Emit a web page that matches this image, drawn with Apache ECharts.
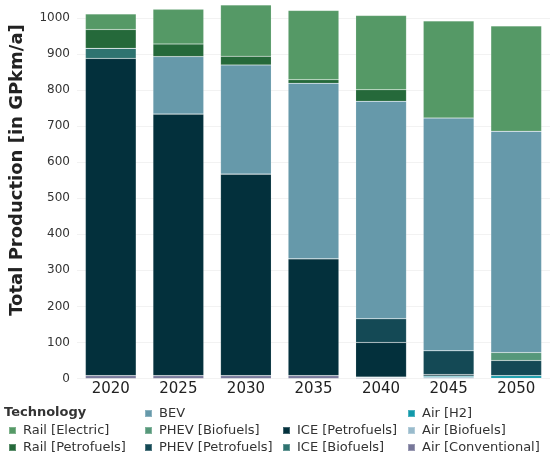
<!DOCTYPE html>
<html style="height: 100%">
<head>
	<meta charset="utf-8">
	<title>Total Production</title>
	<script src="https://cdn.jsdelivr.net/npm/echarts@6/dist/echarts.min.js"></script>
</head>
<body style="height: 100%; margin: 0; background: #fff">
	<div id="main" style="width: 550px; height: 458px"></div>
	<script type="text/javascript">

		// years on the x axis
		var years = ['2020', '2025', '2030', '2035', '2040', '2045', '2050'];
		var yTicks = [0, 100, 200, 300, 400, 500, 600, 700, 800, 900, 1000];

		// GPkm/a per technology, bottom of the stack first
		var airConventional = [8, 8, 8, 8, 2, 0, 0];
		var airBiofuels     = [0, 0, 0, 0, 2, 4, 1];
		var airH2           = [0, 0, 0, 0, 0, 3, 7];
		var icePetrofuels   = [880, 726, 559, 324, 96, 4, 0];
		var iceBiofuels     = [28, 0, 0, 0, 0, 0, 0];
		var phevPetrofuels  = [0, 0, 0, 0, 66, 66, 42];
		var phevBiofuels    = [0, 0, 0, 0, 0, 0, 22];
		var bev             = [0, 159, 303, 487, 603, 646, 614];
		var railPetrofuels  = [52, 35, 24, 10, 32, 0, 0];
		var railElectric    = [43, 96, 142, 192, 206, 269, 292];

		var font = 'DejaVu Sans';

		var stackOrder = [
			['Air [Conventional]', airConventional, '#777799'],
			['Air [Biofuels]', airBiofuels, '#99bbcc'],
			['Air [H2]', airH2, '#1199aa'],
			['ICE [Petrofuels]', icePetrofuels, '#03303c'],
			['ICE [Biofuels]', iceBiofuels, '#2e7370'],
			['PHEV [Petrofuels]', phevPetrofuels, '#144955'],
			['PHEV [Biofuels]', phevBiofuels, '#56987a'],
			['BEV', bev, '#6699aa'],
			['Rail [Petrofuels]', railPetrofuels, '#25693a'],
			['Rail [Electric]', railElectric, '#559966']
		];

		var series = stackOrder.map(function (s) {
			return {
				name: s[0],
				type: 'bar',
				stack: 'total',
				barWidth: '75%',
				data: s[1],
				itemStyle: {
					color: s[2],
					borderColor: 'rgba(255,255,255,0.25)',
					borderWidth: 0.5
				}
			};
		});

		// one legend column per group, laid out like the reference
		var legendCol = function (left, top, names) {
			return {
				orient: 'vertical',
				left: left,
				top: top,
				icon: 'rect',
				itemWidth: 7,
				itemHeight: 7,
				itemGap: 4,
				selectedMode: false,
				padding: 0,
				textStyle: {
					fontFamily: font,
					fontSize: 13,
					lineHeight: 13,
					color: '#333',
					padding: [0, 0, 0, 2]
				},
				data: names
			};
		};

		var myChart = echarts.init(document.getElementById('main'));

		var option = {
			animation: false,
			title: {
				text: 'Technology',
				left: 4,
				top: 406,
				padding: 0,
				textStyle: {
					fontFamily: font,
					fontSize: 13,
					fontWeight: 'bold',
					color: '#333'
				}
			},
			legend: [
				legendCol(8, 424, ['Rail [Electric]', 'Rail [Petrofuels]']),
				legendCol(144, 407, ['BEV', 'PHEV [Biofuels]', 'PHEV [Petrofuels]']),
				legendCol(282, 424, ['ICE [Petrofuels]', 'ICE [Biofuels]']),
				legendCol(407, 407, ['Air [H2]', 'Air [Biofuels]', 'Air [Conventional]'])
			],
			grid: {
				left: 77,
				right: -4,
				top: 0,
				bottom: 79.5
			},
			xAxis: {
				type: 'category',
				data: years,
				axisLine: { show: false },
				axisTick: { show: false },
				axisLabel: {
					margin: 3,
					fontFamily: font,
					fontSize: 15,
					color: '#222'
				}
			},
			yAxis: {
				type: 'value',
				min: 0,
				max: 1050,
				axisLine: { show: false },
				axisTick: { show: false, customValues: yTicks },
				axisLabel: {
					customValues: yTicks,
					formatter: function (v) { return String(v); },
					margin: 7,
					fontFamily: font,
					fontSize: 12,
					color: '#333'
				},
				splitLine: {
					lineStyle: { color: '#f2f2f2', width: 1 }
				}
			},
			graphic: [{
				type: 'text',
				x: 17,
				y: 170,
				rotation: Math.PI / 2,
				style: {
					text: 'Total Production [in GPkm/a]',
					font: 'bold 18px "DejaVu Sans"',
					fill: '#222',
					align: 'center',
					verticalAlign: 'middle'
				}
			}],
			series: series
		};

		myChart.setOption(option);

	</script>
</body>
</html>
